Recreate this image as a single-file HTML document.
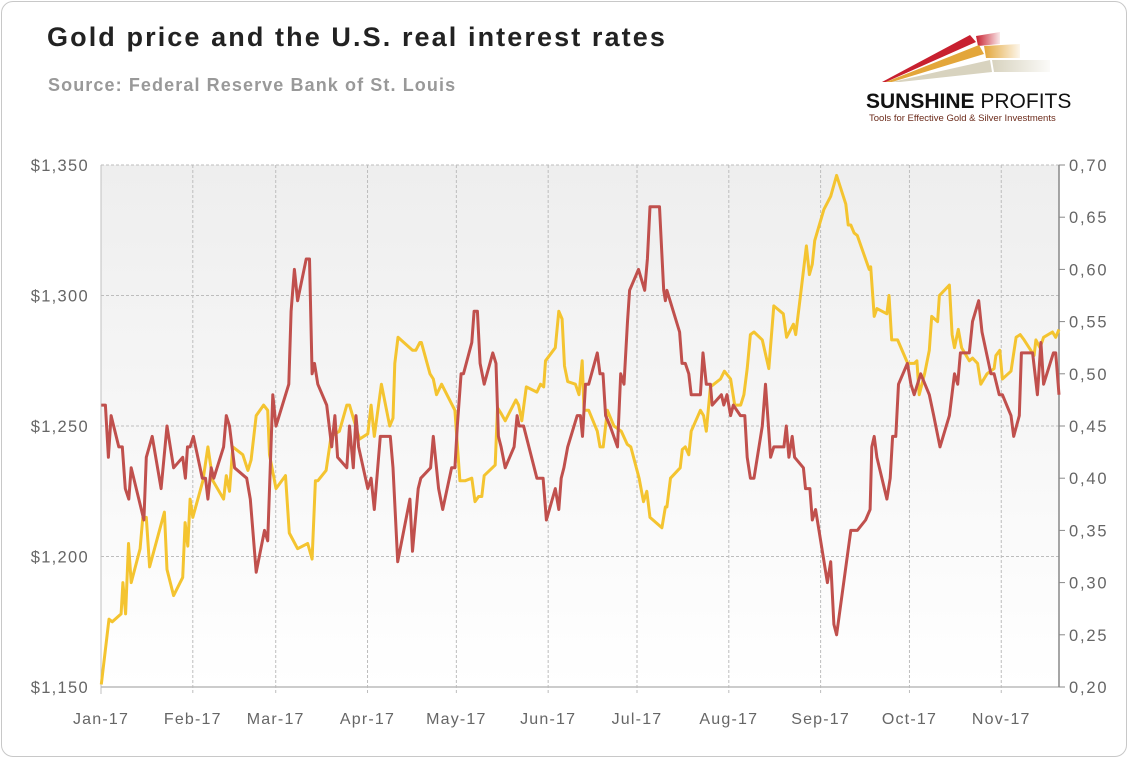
<!DOCTYPE html>
<html><head><meta charset="utf-8">
<style>
html,body{margin:0;padding:0;background:#fff;}
body{width:1128px;height:758px;overflow:hidden;font-family:"Liberation Sans",sans-serif;}
#card{position:absolute;left:1px;top:1px;width:1124px;height:754px;border:1px solid #c8c8c8;border-radius:12px;background:#fff;}
#title{position:absolute;left:47px;top:22px;font-size:27px;font-weight:bold;color:#222;letter-spacing:2.1px;white-space:nowrap;}
#sub{position:absolute;left:48px;top:75px;font-size:18px;font-weight:bold;color:#999;letter-spacing:1.1px;white-space:nowrap;}
#brand{position:absolute;left:866px;top:90px;font-size:21px;color:#111;letter-spacing:0px;white-space:nowrap;}
#tag{position:absolute;left:869px;top:113px;font-size:9.5px;color:#6b2a1a;white-space:nowrap;}
svg{position:absolute;left:0;top:0;}
</style></head><body>
<div id="card"></div>
<div id="title">Gold price and the U.S. real interest rates</div>
<div id="sub">Source: Federal Reserve Bank of St. Louis</div>
<svg width="1128" height="758">
<defs>
<linearGradient id="fr" x1="0" x2="1"><stop offset="0" stop-color="#c8202f"/><stop offset="1" stop-color="#c8202f" stop-opacity="0.1"/></linearGradient>
<linearGradient id="fo" x1="0" x2="1"><stop offset="0" stop-color="#e3a63a"/><stop offset="1" stop-color="#e3a63a" stop-opacity="0.1"/></linearGradient>
<linearGradient id="fg" x1="0" x2="1"><stop offset="0" stop-color="#d8d3bf"/><stop offset="1" stop-color="#d8d3bf" stop-opacity="0.1"/></linearGradient>
</defs>
<polygon points="882,82 970,35 976,42 886,82" fill="#c8202f"/>
<polygon points="976,36 1000,32 1000,44 978,46" fill="url(#fr)"/>
<polygon points="886,82 979,45 984,54 892,82" fill="#e3a63a"/>
<polygon points="984,46 1020,44 1020,58 986,58" fill="url(#fo)"/>
<polygon points="892,82 990,60 992,72 900,82" fill="#d8d3bf"/>
<polygon points="992,60 1050,60 1050,72 994,72" fill="url(#fg)"/>
</svg>
<div id="brand"><b>SUNSHINE</b> PROFITS</div>
<div id="tag">Tools for Effective Gold &amp; Silver Investments</div>
<svg id="chart" width="1128" height="758">
<defs><linearGradient id="bg" x1="0" y1="0" x2="0" y2="1"><stop offset="0" stop-color="#eeeeee"/><stop offset="1" stop-color="#ffffff"/></linearGradient></defs>
</svg>
<script>
const monthLabels=["Jan-17","Feb-17","Mar-17","Apr-17","May-17","Jun-17","Jul-17","Aug-17","Sep-17","Oct-17","Nov-17"];
const monthDays=[0,31,59,90,120,151,181,212,243,273,304];
const goldTicks=[1150,1200,1250,1300,1350];
const goldTickLabels=["$1,150","$1,200","$1,250","$1,300","$1,350"];
const rateTicks=[0.20,0.25,0.30,0.35,0.40,0.45,0.50,0.55,0.60,0.65,0.70];
const rateTickLabels=["0,20","0,25","0,30","0,35","0,40","0,45","0,50","0,55","0,60","0,65","0,70"];
const goldDays=[0.1,2.7,3.8,6.8,7.4,8.3,9.3,10.2,13.2,14.1,15.3,16.4,21.4,22.3,24.5,27.6,28.4,29.3,30.1,31,34.4,36.1,37.8,41.4,42.3,43.4,44.5,47.9,49.6,50.7,52.4,54.9,56.3,56.9,59.1,62.3,63.6,66.4,69.8,71.3,72.4,73.2,76,77.7,80.5,83,83.9,87.3,90.1,91.2,92.3,94.7,97.5,98.6,99.2,100.3,105.2,106.3,107.7,108.2,111.1,112.2,113.3,115,119.5,121.2,122.9,125.2,126.3,127.5,128.6,129.4,133.1,133.9,135,136.5,140.1,141,142.1,143.6,147.2,148.4,149.5,150.1,153.4,154.6,155.7,156.5,157.6,160.2,161.4,162.5,163.1,164.7,167.6,168.5,169.6,171,173.2,175.7,177.7,178.9,181.7,183.2,184.3,185.4,189.4,190.6,191.1,192.3,195.6,196.3,197.3,198.5,199.3,202.4,203.5,204.4,205.8,209.2,210.5,212.6,214,216,217.1,218.2,219.3,220.5,223.3,225.5,227.2,230.4,231.5,233.8,234.6,236.3,238.2,239.2,240.2,241,244.1,246.4,248.4,251.5,252.3,253.2,254.3,255.4,259.4,259.9,261.1,262,265.4,266.1,267,269,272.4,274.6,275.5,276.3,278.1,279.7,280.5,282.5,283.1,286.5,287.4,288.2,289.5,290.6,293.2,294.3,296,297.1,299.2,301.6,302.2,303.5,304.4,307.3,309,310.4,311.7,315.1,315.7,317.1,318.3,321.3,322.4,323.5];
const goldPrices=[1151,1176,1175,1178,1190,1178,1205,1190,1203,1215,1215,1196,1217,1195,1185,1192,1213,1204,1222,1215,1229,1242,1229,1222,1231,1225,1242,1239,1233,1237,1254,1258,1256,1239,1226,1231,1209,1203,1205,1199,1229,1229,1233,1246,1248,1258,1258,1245,1247,1258,1246,1266,1250,1253,1274,1284,1279,1279,1282,1282,1270,1268,1262,1266,1256,1229,1229,1230,1221,1223,1223,1231,1235,1257,1255,1252,1260,1258,1252,1265,1263,1266,1265,1275,1280,1294,1291,1273,1267,1266,1262,1275,1256,1256,1248,1242,1242,1256,1250,1248,1243,1242,1230,1221,1225,1215,1211,1219,1219,1230,1234,1241,1242,1239,1248,1256,1254,1248,1265,1268,1271,1268,1258,1258,1262,1272,1285,1286,1283,1272,1296,1293,1284,1289,1285,1301,1319,1308,1312,1321,1333,1338,1346,1335,1327,1327,1324,1323,1310,1311,1292,1295,1293,1300,1283,1283,1274,1274,1275,1262,1270,1279,1292,1290,1300,1304,1285,1280,1287,1280,1275,1276,1274,1266,1270,1272,1277,1279,1268,1271,1284,1285,1283,1277,1283,1280,1284,1286,1284,1287];
const rateDays=[0.1,1.5,2.5,3.4,6,7.2,8.2,9.4,10.2,14.5,15.3,17.3,20.3,22.3,24.5,27.6,28.5,29.2,30.1,31.2,34.2,35.3,36.1,37.2,38.1,41.4,42.3,43.4,45.1,49.2,50.4,52.4,55.2,56.3,58,59.1,63.4,64.2,65.3,66.4,69.3,70.4,71.3,72.1,73.2,76.2,77.9,79,79.9,83,83.9,85.2,86.1,87,90.1,91.2,92.3,94.3,97.7,98.6,100.2,104.3,105.2,107.1,108,111.3,112.2,114,115.4,118.4,119.5,120.3,121.6,122.4,125.2,126,127.1,128,129.4,132.3,133.4,134.2,135.1,136.5,139.5,140.5,141.2,142.7,147.2,149.3,150.4,153.4,154.6,155.4,156.3,157.6,160.8,161.9,162.6,163.6,164.7,167.6,168.5,169.5,170.4,171.9,174.4,175.5,176.6,177.8,178.5,181.5,183.6,184.5,185.4,188.6,190,190.6,191.1,195.4,196.2,197.3,198.5,199.3,202.4,203.3,204.4,205.8,206.4,209.5,210.3,211.4,212.6,213.5,215.9,217.4,218.2,219.3,220.5,223.3,224.4,226.1,227.2,230.6,231.4,232.3,233.4,234.2,237.2,237.9,239.4,240.2,241.3,245.3,246.4,247.5,248.4,253.2,255.4,258.2,259.7,260.3,261.1,262,265.4,266.5,267.3,268.4,269.3,272.3,273.5,274.6,276.8,279.7,281.2,283.3,286.5,288.2,289.3,290.2,293.2,294.3,296.4,297.5,300.5,301.6,303.3,304.4,307.3,308.2,310.1,310.8,314.6,316.2,317.4,318.3,321.6,322.4,323.5];
const realRates=[0.47,0.47,0.42,0.46,0.43,0.43,0.39,0.38,0.41,0.36,0.42,0.44,0.39,0.45,0.41,0.42,0.40,0.43,0.43,0.44,0.40,0.40,0.38,0.41,0.40,0.43,0.46,0.45,0.41,0.40,0.38,0.31,0.35,0.34,0.48,0.45,0.49,0.56,0.60,0.57,0.61,0.61,0.50,0.51,0.49,0.47,0.43,0.46,0.42,0.41,0.45,0.41,0.46,0.43,0.39,0.40,0.37,0.44,0.44,0.41,0.32,0.38,0.33,0.39,0.40,0.41,0.44,0.39,0.37,0.41,0.41,0.45,0.50,0.50,0.53,0.56,0.56,0.51,0.49,0.52,0.51,0.44,0.43,0.41,0.43,0.46,0.45,0.45,0.40,0.40,0.36,0.39,0.37,0.40,0.41,0.43,0.46,0.46,0.44,0.49,0.49,0.52,0.50,0.50,0.46,0.45,0.43,0.50,0.49,0.55,0.58,0.60,0.58,0.61,0.66,0.66,0.58,0.57,0.58,0.54,0.51,0.51,0.50,0.48,0.48,0.52,0.49,0.49,0.47,0.48,0.47,0.48,0.46,0.47,0.46,0.46,0.42,0.40,0.40,0.45,0.49,0.42,0.43,0.43,0.45,0.42,0.44,0.42,0.41,0.39,0.39,0.36,0.37,0.30,0.32,0.26,0.25,0.35,0.35,0.36,0.37,0.43,0.44,0.42,0.38,0.40,0.44,0.44,0.49,0.51,0.49,0.48,0.50,0.48,0.46,0.43,0.46,0.50,0.49,0.52,0.52,0.55,0.57,0.54,0.50,0.50,0.48,0.48,0.46,0.44,0.46,0.52,0.52,0.48,0.53,0.49,0.52,0.52,0.48];

const NS="http://www.w3.org/2000/svg";
const svg=document.getElementById('chart');
const L=101,R=1059,T=165,B=687,D0=0,D1=323.5;
const xS=d=>L+(d-D0)/(D1-D0)*(R-L);
const yG=v=>B-(v-1150)/(1350-1150)*(B-T);
const yR=v=>B-(v-0.20)/(0.70-0.20)*(B-T);
function mk(tag,at){const e=document.createElementNS(NS,tag);for(const k in at)e.setAttribute(k,at[k]);svg.appendChild(e);return e;}
const bg=mk('rect',{x:L,y:T,width:R-L,height:B-T,fill:'url(#bg)'});


goldTicks.forEach((v,i)=>{
  if(i>0){const g=mk('line',{x1:L,x2:R,y1:yG(v),y2:yG(v),stroke:'#bdbdbd','stroke-dasharray':'3,2'});
  
  }
  const t=mk('text',{x:89,y:yG(v)+6,'text-anchor':'end','font-size':'16.5','letter-spacing':'1.3',fill:'#666','font-family':'Liberation Sans, sans-serif'});
  t.textContent=goldTickLabels[i];
  
  
});
rateTicks.forEach((v,i)=>{
  const tk=mk('line',{x1:R,x2:R+6,y1:yR(v),y2:yR(v),stroke:'#888'});
  
  
  const t=mk('text',{x:1069,y:yR(v)+6,'font-size':'16.5','letter-spacing':'1.8',fill:'#666','font-family':'Liberation Sans, sans-serif'});
  t.textContent=rateTickLabels[i];
  
  
});
monthDays.forEach((d,i)=>{
  const x=xS(d);
  const g=mk('line',{x1:x,x2:x,y1:T,y2:B+7,stroke:i==0?'#c0c0c0':'#bdbdbd','stroke-dasharray':i==0?'none':'3,2'});
  
  
  const t=mk('text',{x:x,y:724,'text-anchor':'middle','font-size':'16','letter-spacing':'1.2',fill:'#666','font-family':'Liberation Sans, sans-serif'});
  t.textContent=monthLabels[i];
  
  
});
const xa=mk('line',{x1:L,x2:R,y1:B,y2:B,stroke:'#bbb','stroke-width':1.5});


const ra=mk('line',{x1:R,x2:R,y1:T,y2:B,stroke:'#888','stroke-width':1.5});


const gp=mk('polyline',{points:goldDays.map((d,i)=>xS(d).toFixed(1)+','+yG(goldPrices[i]).toFixed(1)).join(' '),fill:'none',stroke:'#f4c430','stroke-width':3,'stroke-linejoin':'round'});


const rp=mk('polyline',{points:rateDays.map((d,i)=>xS(d).toFixed(1)+','+yR(realRates[i]).toFixed(1)).join(' '),fill:'none',stroke:'#c0504d','stroke-width':3,'stroke-linejoin':'round'});


</script>
</body></html>
